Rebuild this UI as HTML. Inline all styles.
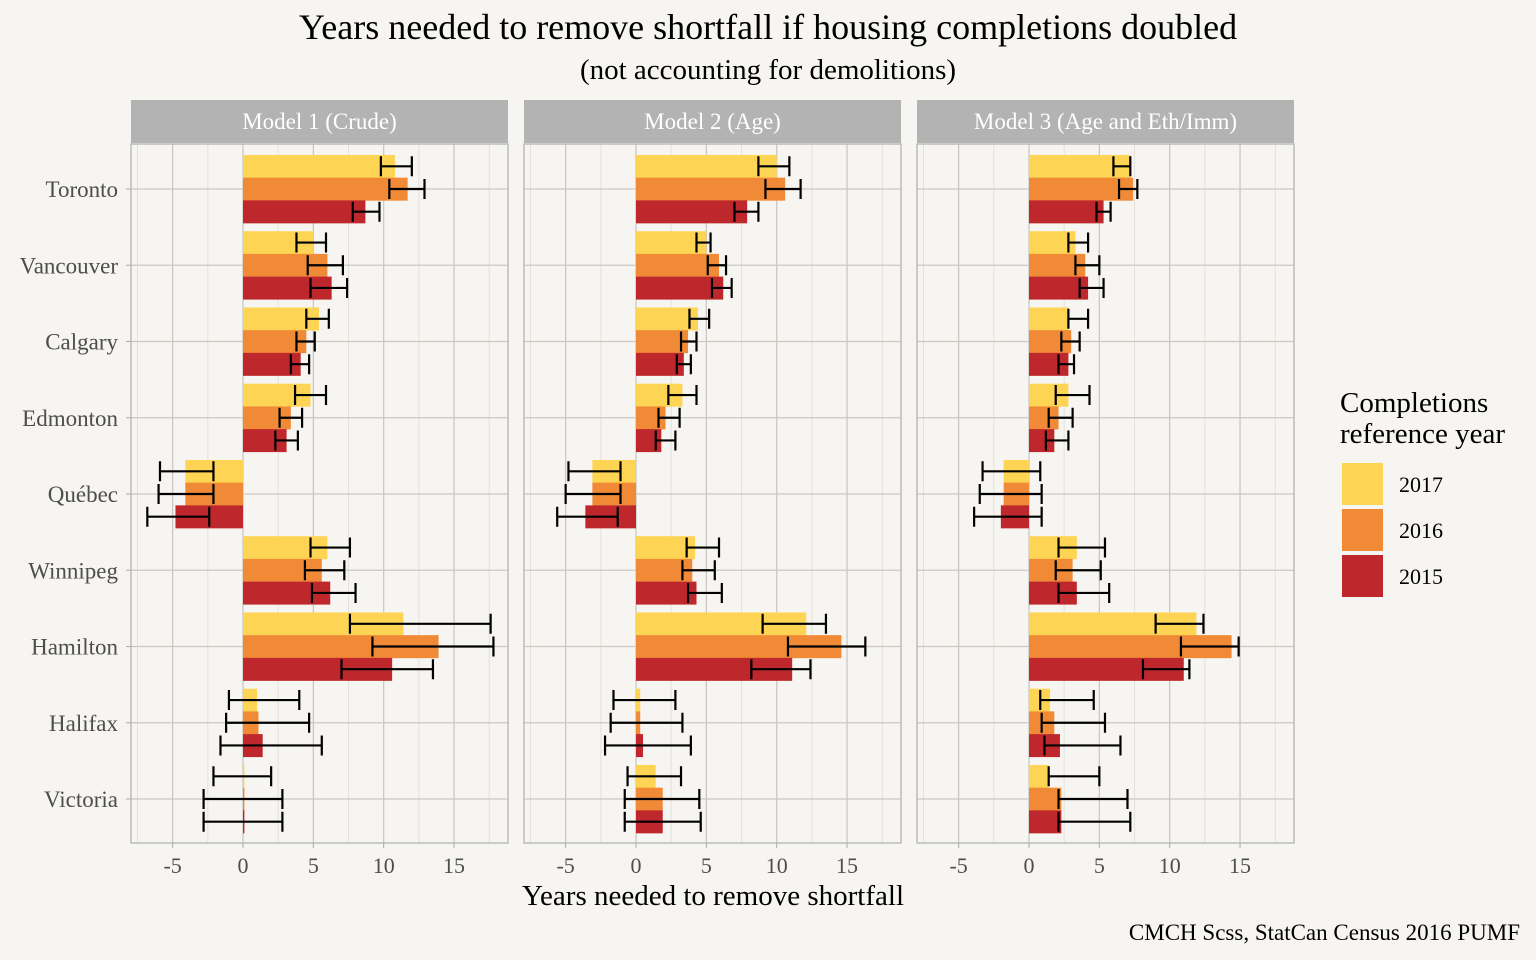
<!DOCTYPE html>
<html><head><meta charset="utf-8"><style>
body{margin:0;background:#f7f5f1;}
svg{display:block;font-family:"Liberation Serif",serif;}
</style></head><body>
<svg id="c" width="1536" height="960" xmlns="http://www.w3.org/2000/svg"></svg>
<script>
const cities=["Toronto","Vancouver","Calgary","Edmonton","Québec","Winnipeg","Hamilton","Halifax","Victoria"];
const years=["2017","2016","2015"];
const models=["Model 1 (Crude)","Model 2 (Age)","Model 3 (Age and Eth/Imm)"];
const xTicks=[-5,0,5,10,15];
const xTickLabels=["-5","0","5","10","15"];
const m1Val=[[10.8,11.7,8.7],[5.0,6.0,6.3],[5.4,4.5,4.1],[4.8,3.4,3.1],[-4.1,-4.1,-4.8],[6.0,5.6,6.2],[11.4,13.9,10.6],[1.0,1.1,1.4],[0.1,0.1,0.1]];
const m1Lo=[[9.8,10.4,7.8],[3.8,4.6,4.8],[4.5,3.8,3.4],[3.7,2.6,2.3],[-5.9,-6.0,-6.8],[4.8,4.4,4.9],[7.6,9.2,7.0],[-1.0,-1.2,-1.6],[-2.1,-2.8,-2.8]];
const m1Hi=[[12.0,12.9,9.7],[5.9,7.1,7.4],[6.1,5.1,4.7],[5.9,4.2,3.9],[-2.1,-2.1,-2.4],[7.6,7.2,8.0],[17.6,17.8,13.5],[4.0,4.7,5.6],[2.0,2.8,2.8]];
const m2Val=[[10.0,10.6,7.9],[5.0,5.9,6.2],[4.4,3.7,3.4],[3.3,2.1,1.8],[-3.1,-3.1,-3.6],[4.2,4.0,4.3],[12.1,14.6,11.1],[0.3,0.3,0.5],[1.4,1.9,1.9]];
const m2Lo=[[8.7,9.2,7.0],[4.3,5.1,5.4],[3.8,3.2,2.9],[2.3,1.6,1.4],[-4.8,-5.0,-5.6],[3.6,3.3,3.7],[9.0,10.8,8.2],[-1.6,-1.8,-2.2],[-0.6,-0.8,-0.8]];
const m2Hi=[[10.9,11.7,8.7],[5.3,6.4,6.8],[5.2,4.3,3.9],[4.3,3.1,2.8],[-1.1,-1.1,-1.3],[5.9,5.6,6.1],[13.5,16.3,12.4],[2.8,3.3,3.9],[3.2,4.5,4.6]];
const m3Val=[[7.2,7.4,5.3],[3.3,4.0,4.2],[2.8,3.0,2.8],[2.8,2.1,1.8],[-1.8,-1.8,-2.0],[3.4,3.1,3.4],[11.9,14.4,11.0],[1.5,1.8,2.2],[1.4,2.3,2.3]];
const m3Lo=[[6.0,6.4,4.8],[2.8,3.3,3.6],[2.8,2.3,2.1],[1.9,1.4,1.2],[-3.3,-3.5,-3.9],[2.1,1.9,2.1],[9.0,10.8,8.1],[0.8,0.9,1.1],[1.4,2.1,2.1]];
const m3Hi=[[7.2,7.7,5.8],[4.2,5.0,5.3],[4.2,3.6,3.2],[4.3,3.1,2.8],[0.8,0.9,0.9],[5.4,5.1,5.7],[12.4,14.9,11.4],[4.6,5.4,6.5],[5.0,7.0,7.2]];
const vals=[m1Val,m2Val,m3Val],los=[m1Lo,m2Lo,m3Lo],his=[m1Hi,m2Hi,m3Hi];
const colors=["#fed455","#f08a36","#be282d"];
const svg=document.getElementById('c');
const NS="http://www.w3.org/2000/svg";
function mk(t,a,txt){const e=document.createElementNS(NS,t);for(const k in a)e.setAttribute(k,a[k]);if(txt!==undefined)e.textContent=txt;svg.appendChild(e);return e;}
const panelL=[131,524,917],panelW=377,pTop=144,pBot=843,ppu=14.07,xmin=-7.96;
const ystep=76.25,y0=189,barH=22.7;
function yC(i){return y0+i*ystep;}
let e;
e=mk('text',{x:768,y:39,'text-anchor':'middle','font-size':36,fill:'#000'},"Years needed to remove shortfall if housing completions doubled");

e=mk('text',{x:768,y:79,'text-anchor':'middle','font-size':29,fill:'#000'},"(not accounting for demolitions)");

models.forEach((m,p)=>{
  const L=panelL[p];
  const X=v=>L+(v-xmin)*ppu;
  e=mk('rect',{x:L,y:100,width:panelW,height:43,fill:'#b3b3b3'});
  
  e=mk('text',{x:L+panelW/2,y:129,'text-anchor':'middle','font-size':23,fill:'#fff'},m);
  
  for(let v=-7.5;v<=17.5;v+=5){e=mk('line',{x1:X(v),x2:X(v),y1:pTop,y2:pBot,stroke:'#e4e1dc','stroke-width':1});
  }
  xTicks.forEach((t,i)=>{
    e=mk('line',{x1:X(t),x2:X(t),y1:pTop,y2:pBot,stroke:'#cbc8c4','stroke-width':1.3});
    
    e=mk('line',{x1:X(t),x2:X(t),y1:pBot,y2:pBot+5,stroke:'#aaa','stroke-width':1});
    
    e=mk('text',{x:X(t),y:873,'text-anchor':'middle','font-size':22,fill:'#4d4d4d'},xTickLabels[i]);
    
  });
  cities.forEach((c,ci)=>{
    e=mk('line',{x1:L,x2:L+panelW,y1:yC(ci),y2:yC(ci),stroke:'#cbc8c4','stroke-width':1.3});
    
  });
  cities.forEach((c,ci)=>{
    years.forEach((yr,yi)=>{
      const v=vals[p][ci][yi];const yt=yC(ci)-1.5*barH+yi*barH;
      e=mk('rect',{x:Math.min(X(0),X(v)),y:yt,width:Math.max(0.8,Math.abs(X(v)-X(0))),height:barH+0.3,fill:colors[yi]});
      
    });
    years.forEach((yr,yi)=>{
      const yc=yC(ci)-barH+yi*barH;const lo=X(los[p][ci][yi]),hi=X(his[p][ci][yi]);
      const g=document.createElementNS(NS,'path');
      g.setAttribute('d',`M${lo},${yc-10}V${yc+10}M${lo},${yc}H${hi}M${hi},${yc-10}V${yc+10}`);
      g.setAttribute('stroke','#000');g.setAttribute('stroke-width',2.2);g.setAttribute('fill','none');
      
      
      svg.appendChild(g);
    });
  });
  e=mk('rect',{x:L,y:pTop,width:panelW,height:pBot-pTop,fill:'none',stroke:'#b3b3b3','stroke-width':1.3});
  
});
cities.forEach((c,ci)=>{
  e=mk('text',{x:118,y:yC(ci)+8,'text-anchor':'end','font-size':23,fill:'#4d4d4d'},c);
  
  e=mk('line',{x1:126,x2:131,y1:yC(ci),y2:yC(ci),stroke:'#aaa'});
  
});
e=mk('text',{x:713,y:905,'text-anchor':'middle','font-size':29,fill:'#000'},"Years needed to remove shortfall");

e=mk('text',{x:1520,y:940,'text-anchor':'end','font-size':23,fill:'#000'},"CMCH Scss, StatCan Census 2016 PUMF");

e=mk('text',{x:1340,y:412,'font-size':29,fill:'#000'},"Completions");

e=mk('text',{x:1340,y:443,'font-size':29,fill:'#000'},"reference year");

years.forEach((yr,i)=>{
  e=mk('rect',{x:1342,y:463+i*46,width:41,height:42,fill:colors[i]});
  
  e=mk('text',{x:1399,y:492+i*46,'font-size':22,fill:'#000'},yr);
  
});
</script>
</body></html>
